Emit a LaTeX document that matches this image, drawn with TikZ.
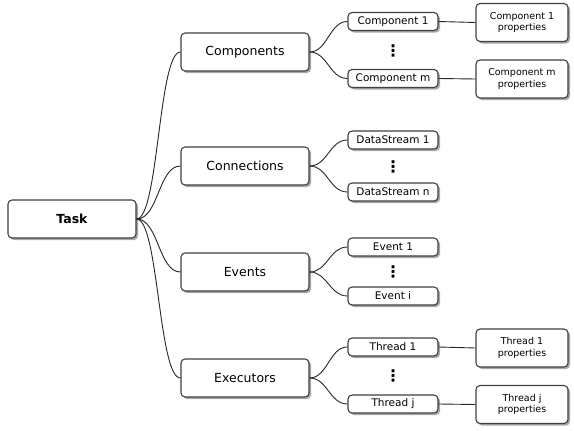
\documentclass[tikz,border=0pt]{standalone}
\usepackage{fontspec}
\setmainfont{DejaVu Sans}
\usepackage{tikz}
\usetikzlibrary{shadows}

\tikzset{
  box/.style={draw=black!75, line width=1.1pt, rounded corners=4pt, fill=white,
    drop shadow={shadow xshift=2pt, shadow yshift=-2pt, fill=black!35, opacity=1},
    align=center, inner sep=0pt},
  bigbox/.style={box, minimum width=128pt, minimum height=38pt, font=\fontsize{12.5}{15}\selectfont},
  leafbox/.style={box, minimum width=90pt, minimum height=18pt, font=\fontsize{10.5}{12}\selectfont},
  propbox/.style={box, minimum width=92pt, minimum height=38pt, font=\fontsize{9.5}{11.5}\selectfont},
  vdots/.style={font=\fontsize{16}{16}\selectfont\bfseries},
  link/.style={black!85, line width=0.9pt}
}

\begin{document}
\begin{tikzpicture}[x=1pt, y=-1pt]
  \useasboundingbox (0,0) rectangle (574,431);

  % root
  \node[bigbox, font=\fontsize{12.5}{15}\selectfont\bfseries] (task) at (72,219) {Task};

  % second level
  \node[bigbox] (comp) at (245,52) {Components};
  \node[bigbox] (conn) at (245,166) {Connections};
  \node[bigbox] (evt) at (245,272) {Events};
  \node[bigbox] (exe) at (245,378) {Executors};

  % leaves
  \node[leafbox] (comp1) at (393,21.5) {Component 1};
  \node[vdots] (compdots) at (393,51) {⋮};
  \node[leafbox] (compm) at (393,78.5) {Component m};
  \node[leafbox] (ds1) at (393,140) {DataStream 1};
  \node[vdots] (dsdots) at (393,167) {⋮};
  \node[leafbox] (dsn) at (393,192) {DataStream n};
  \node[leafbox] (ev1) at (393,247) {Event 1};
  \node[vdots] (evdots) at (393,272) {⋮};
  \node[leafbox] (evi) at (393,296) {Event i};
  \node[leafbox] (th1) at (393,347) {Thread 1};
  \node[vdots] (thdots) at (393,376) {⋮};
  \node[leafbox] (thj) at (393,404) {Thread j};

  % properties
  \node[propbox] (comp1p) at (522,22.5) {Component 1\\properties};
  \node[propbox] (compmp) at (522,79) {Component m\\properties};
  \node[propbox] (th1p) at (522,348) {Thread 1\\properties};
  \node[propbox] (thjp) at (522,404.5) {Thread j\\properties};

  % task to groups
  \foreach \g in {comp,conn,evt,exe}
    \draw[link] (task.east) .. controls +(22,0) and +(-22,0) .. (\g.west);

  % groups to leaves
  \foreach \g/\l in {comp/comp1,comp/compm,conn/ds1,conn/dsn,evt/ev1,evt/evi,exe/th1,exe/thj}
    \draw[link] (\g.east) .. controls +(18,0) and +(-18,0) .. (\l.west);

  % leaves to properties
  \foreach \l in {comp1,compm,th1,thj}
    \draw[link] (\l.east) -- (\l p.west);
\end{tikzpicture}
\end{document}
